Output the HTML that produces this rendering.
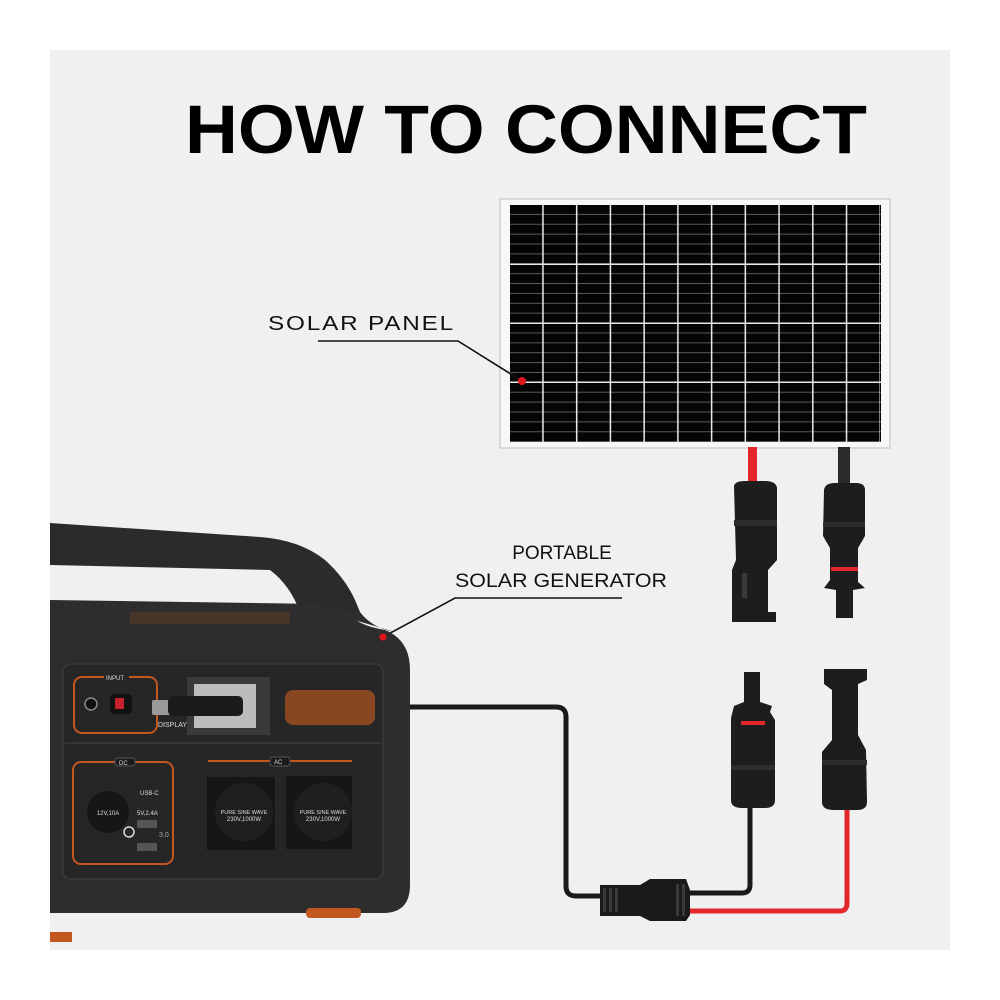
<!DOCTYPE html>
<html><head><meta charset="utf-8">
<style>
html,body{margin:0;padding:0;background:#fff;}
svg{display:block;}
text{font-family:"Liberation Sans",Arial,sans-serif;}
</style></head>
<body>
<svg width="1000" height="1000" viewBox="0 0 1000 1000" xmlns="http://www.w3.org/2000/svg">
<defs>
<pattern id="hl" x="0" y="205" width="10" height="9.88" patternUnits="userSpaceOnUse">
<rect x="0" y="8.9" width="10" height="1" fill="#5a5a5a"/>
</pattern>
<pattern id="vl" x="510" y="0" width="33.73" height="10" patternUnits="userSpaceOnUse">
<rect x="32.2" y="0" width="1.6" height="10" fill="#e8e8e8"/>
</pattern>
</defs>
<rect x="0" y="0" width="1000" height="1000" fill="#fff"/>
<rect x="50" y="50" width="900" height="900" fill="#f0f0f0"/>

<text x="185" y="153" font-size="69" font-weight="bold" textLength="682" lengthAdjust="spacingAndGlyphs" fill="#000">HOW TO CONNECT</text>

<rect x="500" y="199" width="390" height="249" fill="#f7f7f7" stroke="#cfcfcf" stroke-width="1.5"/>
<rect x="510" y="205" width="371" height="237" fill="#050505"/>
<rect x="510" y="205" width="371" height="237" fill="url(#hl)"/>
<rect x="510" y="205" width="370" height="237" fill="url(#vl)"/>
<rect x="510" y="263.5" width="371" height="1.5" fill="#e8e8e8"/>
<rect x="510" y="322.5" width="371" height="1.5" fill="#e8e8e8"/>
<rect x="510" y="381.5" width="371" height="1.5" fill="#e8e8e8"/>

<text x="268" y="330" font-size="20" fill="#111" letter-spacing="1.5" textLength="187" lengthAdjust="spacingAndGlyphs">SOLAR PANEL</text>
<polyline points="318,341 458,341 522,381" fill="none" stroke="#111" stroke-width="1.6"/>
<circle cx="522" cy="381" r="4" fill="#e0161b"/>

<text x="562" y="559" font-size="19" text-anchor="middle" fill="#111">PORTABLE</text>
<text x="455" y="587" font-size="19" fill="#111" textLength="212" lengthAdjust="spacingAndGlyphs">SOLAR GENERATOR</text>
<polyline points="622,598 455,598 383,637" fill="none" stroke="#111" stroke-width="1.6"/>

<rect x="748" y="447" width="9" height="38" fill="#e3262b"/>
<rect x="838" y="447" width="12" height="40" fill="#2a2a2a"/>
<path d="M734,486 Q735,481 745,481 L765,481 Q776,481 777,488 L777,560 L768,570 L768,612 L776,612 L776,622 L732,622 L732,570 L736,560 Z" fill="#1d1d1d"/>
<rect x="734" y="520" width="43" height="6" fill="#2d2d2d"/>
<rect x="742" y="573" width="5" height="25" fill="#3a3a3a"/>
<path d="M824,490 Q825,483 835,483 L856,483 Q865,483 865,490 L865,536 L858,548 L858,582 L865,588 L853,590 L853,618 L836,618 L836,590 L824,588 L830,580 L830,548 L823,536 Z" fill="#1d1d1d"/>
<rect x="831" y="567" width="27" height="4" fill="#e3262b"/>
<rect x="823" y="522" width="42" height="5" fill="#2d2d2d"/>

<path d="M744,672 L760,672 L760,702 L772,706 L770,712 L775,720 L775,800 Q775,808 765,808 L742,808 Q731,808 731,800 L731,718 L734,706 L744,702 Z" fill="#1d1d1d"/>
<rect x="741" y="721" width="24" height="4" fill="#e3262b"/>
<rect x="731" y="765" width="44" height="5" fill="#2d2d2d"/>
<path d="M824,669 L867,669 L867,680 L858,684 L858,735 L866,750 L867,802 Q867,810 857,810 L834,810 Q822,810 822,802 L822,752 L832,740 L832,690 L824,684 Z" fill="#1d1d1d"/>
<rect x="822" y="760" width="45" height="5" fill="#2d2d2d"/>

<path d="M250,707 L556,707 Q566,707 566,717 L566,886 Q566,896 576,896 L602,896" fill="none" stroke="#1a1a1a" stroke-width="5"/>
<path d="M688,893 L742,893 Q750,893 750,885 L750,808" fill="none" stroke="#1a1a1a" stroke-width="5"/>
<path d="M688,911 L840,911 Q847,911 847,903 L847,810" fill="none" stroke="#e3262b" stroke-width="5"/>
<path d="M600,885 L640,885 L650,879 L686,879 L690,890 L690,915 L686,921 L650,921 L640,916 L600,916 Z" fill="#1a1a1a"/>
<rect x="603" y="888" width="3" height="24" fill="#3a3a3a"/><rect x="609" y="888" width="3" height="24" fill="#3a3a3a"/><rect x="615" y="888" width="3" height="24" fill="#3a3a3a"/>
<rect x="676" y="884" width="3" height="32" fill="#3a3a3a"/><rect x="682" y="884" width="3" height="32" fill="#3a3a3a"/>

<path d="M50,523 L260,537 Q300,540 325,560 Q345,578 355,600 L360,612 L300,612 Q290,585 270,570 L50,565 Z" fill="#2b2b2c"/>
<path d="M50,600 L320,604 L345,610 Q355,625 385,630 Q410,640 410,670 L410,885 Q410,912 385,913 L50,913 Z" fill="#2d2d2e"/>
<path d="M300,612 L360,612 Q372,628 395,632 L320,610 Z" fill="#2d2d2e"/>
<rect x="130" y="612" width="160" height="12" fill="#5a3a28" opacity="0.6"/>
<rect x="63" y="664" width="320" height="215" rx="8" fill="#262627" stroke="#3a3a3b" stroke-width="1.5"/>
<line x1="65" y1="743" x2="381" y2="743" stroke="#3a3a3b" stroke-width="1.5"/>
<rect x="74" y="677" width="83" height="56" rx="8" fill="none" stroke="#c2571f" stroke-width="2"/>
<rect x="104" y="672" width="25" height="9" fill="#262627"/>
<text x="106" y="680" font-size="6" fill="#ddd">INPUT</text>
<circle cx="91" cy="704" r="6" fill="#111" stroke="#888" stroke-width="1.5"/>
<rect x="110" y="694" width="22" height="20" rx="4" fill="#111"/>
<rect x="115" y="698" width="9" height="11" fill="#c6202a"/>
<rect x="187" y="677" width="83" height="58" fill="#3a3a3c"/>
<rect x="194" y="684" width="62" height="44" fill="#bcbcbc"/>
<text x="158" y="727" font-size="7" fill="#ddd">DISPLAY</text>
<rect x="285" y="690" width="90" height="35" rx="8" fill="#a9531f" opacity="0.75"/>
<rect x="152" y="700" width="20" height="15" rx="2" fill="#9a9a9a"/>
<rect x="168" y="696" width="75" height="20" rx="5" fill="#1b1b1b"/>
<rect x="73" y="762" width="100" height="102" rx="8" fill="none" stroke="#c2571f" stroke-width="2"/>
<rect x="115" y="758" width="20" height="8" rx="3" fill="#1a1a1a" stroke="#555"/>
<text x="119" y="765" font-size="6" fill="#ddd">DC</text>
<circle cx="108" cy="812" r="21" fill="#161616"/>
<text x="108" y="815" font-size="6" fill="#ddd" text-anchor="middle">12V,10A</text>
<text x="140" y="795" font-size="6" fill="#ddd">USB-C</text>
<text x="137" y="815" font-size="6" fill="#ddd">5V,2.4A</text>
<rect x="137" y="820" width="20" height="8" fill="#555"/>
<rect x="137" y="843" width="20" height="8" fill="#555"/>
<circle cx="129" cy="832" r="5" fill="none" stroke="#ddd" stroke-width="1.5"/>
<text x="159" y="837" font-size="7" fill="#aaa">3.0</text>
<line x1="208" y1="761" x2="352" y2="761" stroke="#c2571f" stroke-width="2"/>
<rect x="270" y="757" width="20" height="9" rx="3" fill="#1a1a1a" stroke="#555"/>
<text x="274" y="764" font-size="6" fill="#ddd">AC</text>
<rect x="207" y="777" width="68" height="73" fill="#161616"/>
<rect x="286" y="776" width="66" height="73" fill="#161616"/>
<circle cx="244" cy="812" r="29" fill="#1f1f1f"/>
<circle cx="323" cy="812" r="29" fill="#1f1f1f"/>
<text x="244" y="814" font-size="5.5" fill="#ddd" text-anchor="middle">PURE SINE WAVE</text>
<text x="244" y="821" font-size="6" fill="#ddd" text-anchor="middle">230V,1000W</text>
<text x="323" y="814" font-size="5.5" fill="#ddd" text-anchor="middle">PURE SINE WAVE</text>
<text x="323" y="821" font-size="6" fill="#ddd" text-anchor="middle">230V,1000W</text>
<rect x="306" y="908" width="55" height="10" rx="4" fill="#c2571f"/>
<rect x="50" y="932" width="22" height="10" fill="#c2571f"/>
<circle cx="383" cy="637" r="3.5" fill="#e0161b"/>
</svg>
</body></html>
